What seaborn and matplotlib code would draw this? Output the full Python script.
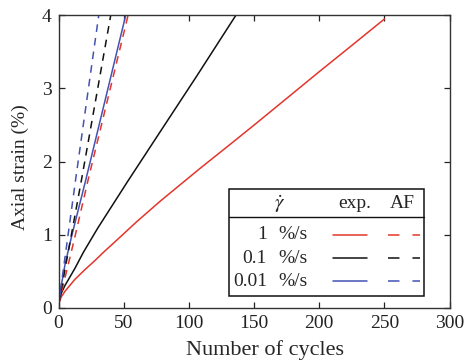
import matplotlib
matplotlib.use("Agg")
import matplotlib.pyplot as plt
from matplotlib.lines import Line2D
from matplotlib.patches import Rectangle
import pandas as pd
import seaborn as sns

# Experimental ratcheting curves (axial strain vs. number of cycles)
exp_1_cycles = [0, 2, 5, 12.5, 20, 28, 35, 43, 60, 78, 108, 134, 150, 174, 200, 223, 250]
exp_1_strain = [0.05, 0.15, 0.23, 0.39, 0.52, 0.65, 0.77, 0.9, 1.18, 1.46, 1.9, 2.27, 2.5, 2.85, 3.23, 3.56, 3.95]

exp_01_cycles = [0, 2, 5, 12.5, 19, 30, 53, 78, 106, 136]
exp_01_strain = [0.05, 0.2, 0.31, 0.54, 0.76, 1.09, 1.73, 2.41, 3.17, 4.0]

exp_001_cycles = [0, 2, 5, 10, 21, 51.5]
exp_001_strain = [0.05, 0.3, 0.6, 0.98, 1.76, 4.0]

# AF model predictions
af_1_cycles = [0, 12.5, 22.7, 53.3]
af_1_strain = [0.05, 0.97, 1.755, 4.0]

af_01_cycles = [0, 17.6, 40]
af_01_strain = [0.05, 1.755, 4.0]

af_001_cycles = [0, 13.8, 30.8]
af_001_strain = [0.05, 1.85, 4.0]

rate_labels = ["1", "0.1", "0.01"]
rate_colors = ["#e3352b", "#111111", "#4452b3"]
x_ticks = [0, 50, 100, 150, 200, 250, 300]
y_ticks = [0, 1, 2, 3, 4]

sns.set_style("ticks")
plt.rcParams["font.family"] = ["Liberation Serif", "DejaVu Serif"]
plt.rcParams["mathtext.fontset"] = "stix"

fig = plt.figure(figsize=(4.65, 3.64), dpi=100)
ax = fig.add_axes([0.126, 0.154, 0.841, 0.804])

exp_sets = [(exp_1_cycles, exp_1_strain), (exp_01_cycles, exp_01_strain),
            (exp_001_cycles, exp_001_strain)]
af_sets = [(af_1_cycles, af_1_strain), (af_01_cycles, af_01_strain),
           (af_001_cycles, af_001_strain)]

lw = 1.1
dash = (5, 4)
for (cx, sy), color in zip(exp_sets, rate_colors):
    df = pd.DataFrame({"cycles": cx, "strain": sy})
    sns.lineplot(data=df, x="cycles", y="strain", ax=ax, color=color,
                 linewidth=lw, sort=False, estimator=None)
for (cx, sy), color in zip(af_sets, rate_colors):
    df = pd.DataFrame({"cycles": cx, "strain": sy})
    sns.lineplot(data=df, x="cycles", y="strain", ax=ax, color=color,
                 linewidth=lw, sort=False, estimator=None)
    ax.lines[-1].set_dashes(dash)

ax.set_xlim(0, 300)
ax.set_ylim(0, 4)
ax.set_xticks(x_ticks)
ax.set_yticks(y_ticks)
ax.tick_params(direction="in", length=4.5, width=0.9, top=True, right=True,
               labelsize=14, colors="#222222", pad=5)
for s in ax.spines.values():
    s.set_linewidth(1.0)
    s.set_color("#333333")
    s.set_visible(True)
ax.set_xlabel("Number of cycles", fontsize=16, va="center")
ax.set_ylabel("Axial strain (%)", fontsize=14, va="center")
ax.xaxis.set_label_coords(0.528, -0.145)
ax.yaxis.set_label_coords(-0.099, 0.482)

# Legend table: strain rate / experiment / AF model
tr = ax.transAxes
def ax_x(px):
    return (px - 58.7) / (449.5 - 58.7)
def ax_y(py):
    return (308.3 - py) / (308.3 - 15.3)

box_l, box_r = ax_x(229), ax_x(423.5)
box_t, box_b = ax_y(189.3), ax_y(296.7)
ax.add_patch(Rectangle((box_l, box_b), box_r - box_l, box_t - box_b,
                       transform=tr, facecolor="white", edgecolor="#111111",
                       linewidth=1.1, zorder=5))
ax.add_line(Line2D([box_l, box_r], [ax_y(217.7)] * 2, transform=tr,
                   color="#111111", linewidth=1.0, zorder=6))
hy = ax_y(204)
ax.text(ax_x(280), hy, r"$\dot{\gamma}$", transform=tr, fontsize=15,
        ha="center", va="center", zorder=7)
ax.text(ax_x(355), hy, "exp.", transform=tr, fontsize=14,
        ha="center", va="center", zorder=7)
ax.text(ax_x(402.5), hy, "AF", transform=tr, fontsize=14,
        ha="center", va="center", zorder=7)
row_y = [235, 258.3, 281.7]
for lab, color, py in zip(rate_labels, rate_colors, row_y):
    yy = ax_y(py)
    ax.text(ax_x(267), yy, lab, transform=tr, fontsize=14,
            ha="right", va="center", zorder=7)
    ax.text(ax_x(278), yy, "%/s", transform=tr, fontsize=14,
            ha="left", va="center", zorder=7)
    ax.add_line(Line2D([ax_x(333.3), ax_x(366.7)], [yy, yy], transform=tr,
                       color=color, linewidth=lw, zorder=7))
    ax.add_line(Line2D([ax_x(388.3), ax_x(420)], [yy, yy], transform=tr,
                       color=color, linewidth=lw, zorder=7,
                       dashes=(7.5, 8.5)))

fig.savefig("out.png", dpi=100)
